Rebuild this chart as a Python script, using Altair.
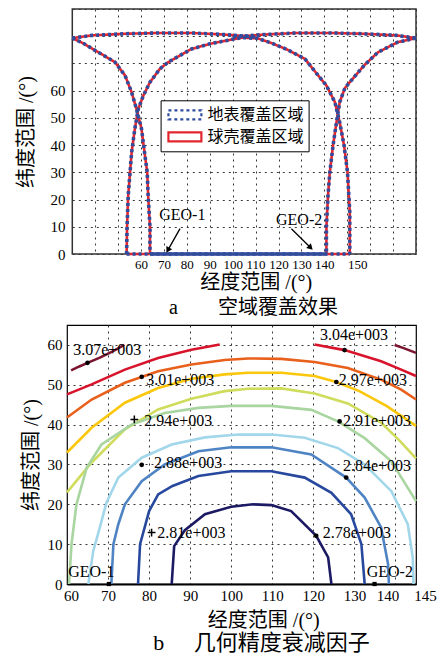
import altair as alt
import pandas as pd

FONT = "Liberation Serif, Noto Sans CJK SC"

# ---------------- panel a: coverage ----------------
lon_domain_a = [30, 180]
lat_domain_a = [0, 90]
lon_ticks_a = list(range(30, 181, 10))
lat_ticks_a = list(range(0, 91, 10))
series_names = ["地表覆盖区域", "球壳覆盖区域"]

left_lon = [30, 35, 39.9, 44, 48.6, 53.0, 55.9, 58.0, 60.2, 61.7, 62.7, 63.1, 63.9, 63.9]
left_lat = [79.3, 77.3, 74.8, 72.8, 70.5, 65.6, 59.4, 53.3, 46.0, 36.2, 30.0, 21.5, 10.0, 0]
arch_lon = [53.7, 53.9, 54.4, 55.9, 57.3, 58.8, 61.0, 63.9, 68.2, 71.9, 82, 90, 96.6, 104, 111,
            116.9, 124, 131.5, 137.3, 140.9, 144.6, 146.7, 148.6, 150.1, 151.1, 151.1]
arch_lat = [0, 10, 21.5, 37.4, 46.0, 53.3, 58.2, 63.1, 68.0, 70.5, 75.3, 77.2, 78.3, 79.5, 79.2,
            77.5, 75.0, 71.7, 65.6, 61.9, 55.8, 48.4, 39.9, 30.1, 15.4, 0]
right_lon = [180, 172, 163.4, 157.6, 152.5, 149, 146.7, 145.3, 143.8, 142.4, 141.6, 140.9, 140.9]
right_lat = [79.3, 77.8, 74.1, 69.5, 64.5, 61, 55.8, 48.4, 39.9, 30.1, 21.5, 10, 0]
topl_lon = [30, 38.4, 53, 67.5, 82, 96.6, 110]
topl_lat = [79.3, 80.3, 80.9, 81.2, 81.2, 80.6, 79.7]
topr_lon = [100, 113.4, 128, 142.5, 157, 171.6, 180]
topr_lat = [79.7, 80.6, 81.2, 81.2, 80.9, 80.3, 79.3]
base_lon = [53.7, 151.1]
base_lat = [0, 0]
track_lon = [63.9, 140.9]
track_lat = [0, 0]

geo_names = ["GEO-1", "GEO-2"]
geo_text_lon = [78.0, 129.0]
geo_text_lat = [14.3, 12.5]
arrow_lon = [77.0, 125.6]
arrow_lat = [9.3, 9.3]
arrow_lon2 = [71.9, 133.7]
arrow_lat2 = [1.7, 2.6]

# ---------------- panel b: GDOP contours ----------------
lon_domain_b = [60, 145]
lat_domain_b = [0, 65]
lon_ticks_b = [60, 70, 80, 90, 100, 110, 120, 130, 140, 145]
lat_ticks_b = [0, 10, 20, 30, 40, 50, 60]

levels = ["3.07", "3.04", "3.01", "2.97", "2.94", "2.91", "2.88", "2.84", "2.81", "2.78"]
level_colors = ["#7a1630", "#d8142c", "#e8601c", "#fbc70c", "#cfdc5c", "#a9d5a0",
                "#a2d6ea", "#4f84c4", "#27489d", "#1c1a63"]

c307a_lon = [61.0, 63, 65, 68, 71, 74]
c307a_lat = [53.6, 54.6, 55.5, 56.8, 58.3, 60]
c307b_lon = [139.8, 142, 145]
c307b_lat = [60, 59.2, 58]
c304a_lon = [60, 66.0, 74.1, 82.2, 90.3, 97.2]
c304a_lat = [47.6, 50.1, 53.8, 56.7, 58.8, 60.1]
c304b_lon = [120.3, 127.6, 136.5, 141.4, 145]
c304b_lat = [60.1, 58.7, 55.9, 53.8, 52.2]
c301_lon = [60, 66, 74.1, 82.2, 90.3, 98.4, 104.1, 112.2, 120.3, 128.4, 136.5, 141.4, 145]
c301_lat = [41.8, 46.3, 50.5, 53.4, 55.1, 56.2, 56.6, 56.5, 55.7, 54.2, 51.3, 48.8, 46.3]
c297_lon = [60, 66, 74.1, 82.2, 90.3, 98.4, 104.1, 112.2, 120.3, 125.6, 131.2, 137.8, 145]
c297_lat = [33, 39.2, 45.5, 49.2, 51.5, 52.6, 53, 53, 52.2, 50.7, 48.4, 44.7, 39.7]
c294_lon = [60, 66, 74.1, 82.2, 90.3, 98.4, 104.1, 112.2, 120.3, 128.4, 136.5, 141, 145]
c294_lat = [23, 30.5, 38.8, 43.8, 46.5, 48.4, 49, 49.1, 47.8, 45.3, 40.5, 36.0, 31.5]
c291_lon = [60.5, 61.1, 62.3, 64.8, 68.4, 75.7, 83.8, 92, 100, 109.8, 119.5, 126, 132.5, 139, 145]
c291_lat = [0, 10, 20, 29.2, 35, 40, 42.9, 44.2, 44.7, 44.7, 43.7, 40.8, 36.6, 30.8, 20.8]
c288_lon = [65.2, 66.4, 68.0, 69.6, 72.5, 78.2, 85.5, 93.6, 101.7, 109.8, 117.9, 126, 132.5,
            139, 143, 144.2, 144.4]
c288_lat = [0, 8.3, 14.2, 20.4, 26.7, 31.7, 35, 36.8, 37.5, 37.5, 36.7, 34.1, 30, 23.3, 15, 6.7, 0]
c284_lon = [70.8, 71.3, 72.5, 74.1, 78.2, 83.8, 92, 100, 109.8, 119.5, 128, 132.5, 136.5, 138.2, 138.4]
c284_lat = [0, 10, 15, 20, 25.8, 30, 33.3, 34.3, 34.3, 32.5, 26.7, 21.7, 14.2, 5, 0]
c281_lon = [77.3, 77.8, 80.0, 82.2, 85.7, 92, 100, 109.8, 117.9, 124.4, 129.2, 131.7, 132.5]
c281_lat = [0, 10, 18.3, 22.5, 24.6, 27.1, 28.3, 28.3, 26.7, 22.9, 17.5, 10, 0]
c278_lon = [85.5, 86.1, 88.7, 93.6, 100, 105.3, 109.8, 114.6, 120.7, 123.6, 124.4]
c278_lat = [0, 9.5, 13.5, 17.5, 19.4, 20, 19.8, 18.3, 12.1, 6.7, 0]

label_text = ["3.07e+003", "3.01e+003", "2.94e+003", "2.88e+003", "2.81e+003",
              "3.04e+003", "2.97e+003", "2.91e+003", "2.84e+003", "2.78e+003"]
label_lon = [61.5, 79.3, 78.8, 81.2, 82.0, 121.6, 126.2, 127.2, 127.2, 122.3]
label_lat = [58.8, 51.3, 40.9, 30.3, 12.9, 62.6, 51.3, 40.8, 29.6, 12.9]
dot_lon = [65.0, 78.2, 78.2, 127.6, 125.6, 126.4, 128.0, 120.7]
dot_lat = [55.5, 52.0, 29.9, 58.7, 50.7, 40.8, 26.7, 12.1]
plus_lon = [76.4, 80.6]
plus_lat = [41.3, 12.9]
sat_name_lon = [60.3, 133.0]
sat_name_lat = [2.9, 2.9]
sat_lon = [70.2, 134.9]
sat_lat = [0, 0]


def curve_df(key, lons, lats, **extra):
    d = pd.DataFrame({"lon": lons, "lat": lats})
    d["curve"] = key
    d["i"] = range(len(d))
    for k, v in extra.items():
        d[k] = v
    return d


# ---------- build panel a ----------
shape_sets = [(left_lon, left_lat), (arch_lon, arch_lat), (right_lon, right_lat),
              (topl_lon, topl_lat), (topr_lon, topr_lat), (base_lon, base_lat)]
frames = []
for s in series_names:
    for k, (lo, la) in enumerate(shape_sets):
        frames.append(curve_df(f"{s}{k}", lo, la, series=s))
cov = pd.concat(frames, ignore_index=True)
track = curve_df("track", track_lon, track_lat)

xa = alt.X("lon:Q",
           scale=alt.Scale(domain=lon_domain_a, range=[5.3, 349], nice=False, zero=False),
           axis=alt.Axis(values=lon_ticks_a,
                         labelExpr="datum.value >= 60 && datum.value <= 150 ? datum.label : ''",
                         labelOffset={"condition": {"test": "datum.value == 150", "value": 10},
                                      "value": 0},
                         labelFontSize=13, labelOverlap=False, labelFlush=False,
                         title="经度范围 /(°)", titleX=188.8, titlePadding=1,
                         labelPadding=4, ticks=False, domain=False, grid=True))
ya = alt.Y("lat:Q",
           scale=alt.Scale(domain=lat_domain_a, nice=False, zero=False),
           axis=alt.Axis(values=lat_ticks_a,
                         labelExpr="datum.value <= 60 ? datum.label : ''",
                         title="纬度范围 /(°)", titlePadding=14,
                         labelPadding=2, ticks=False, domain=False, grid=True))

color_a = alt.Color("series:N",
                    scale=alt.Scale(domain=series_names, range=["#2f4c9f", "#e2262d"]),
                    legend=alt.Legend(title=None, orient="none", legendX=93.6, legendY=91.3,
                                      direction="vertical",
                                      symbolType="M-2.06,-0.56H2.06V0.56H-2.06Z",
                                      symbolSize=256, symbolStrokeWidth=2.2,
                                      symbolOffset=9.8, labelOffset=13, padding=5,
                                      rowPadding=3, strokeColor="black", fillColor="white",
                                      labelFont=FONT, labelFontSize=16, labelColor="black",
                                      symbolFillColor="transparent"))
dash_a = alt.StrokeDash("series:N",
                        scale=alt.Scale(domain=series_names, range=[[3, 3], [1, 0]]),
                        legend=None)

frame_a = pd.DataFrame({"lon": [lon_domain_a[0]], "lon2": [lon_domain_a[1]],
                        "lat": [lat_domain_a[0]], "lat2": [lat_domain_a[1]]})
frame_layer = alt.Chart(frame_a).mark_rect(fillOpacity=0, stroke="#333333", strokeWidth=1.5).encode(
    x=xa, x2="lon2:Q", y=ya, y2="lat2:Q")

red_layer = alt.Chart(cov).transform_filter(
    alt.datum.series == series_names[1]).mark_line(strokeWidth=2.6).encode(
    x=xa, y=ya, color=color_a, strokeDash=dash_a, detail="curve:N", order="i:Q")
blue_layer = alt.Chart(cov).transform_filter(
    alt.datum.series == series_names[0]).mark_line(strokeWidth=3.6).encode(
    x=xa, y=ya, color=color_a, strokeDash=dash_a, detail="curve:N", order="i:Q")
track_layer = alt.Chart(track).mark_line(strokeWidth=3.6, color="#2f4c9f").encode(
    x=xa, y=ya, order="i:Q")

geo_df = pd.DataFrame({"name": geo_names, "lon": geo_text_lon, "lat": geo_text_lat})
geo_text = alt.Chart(geo_df).mark_text(font=FONT, fontSize=16, color="black").encode(
    x=xa, y=ya, text="name:N")
arr_df = pd.DataFrame({"lon": arrow_lon, "lat": arrow_lat, "lon2": arrow_lon2, "lat2": arrow_lat2})
arrow_shaft = alt.Chart(arr_df).mark_rule(color="black", strokeWidth=1.3).encode(
    x=xa, y=ya, x2="lon2:Q", y2="lat2:Q")
head1 = alt.Chart(pd.DataFrame({"lon": arrow_lon2[:1], "lat": arrow_lat2[:1]})).mark_point(
    shape="triangle", filled=True, color="black", size=45, angle=210, opacity=1).encode(x=xa, y=ya)
head2 = alt.Chart(pd.DataFrame({"lon": arrow_lon2[1:], "lat": arrow_lat2[1:]})).mark_point(
    shape="triangle", filled=True, color="black", size=45, angle=135, opacity=1).encode(x=xa, y=ya)

top = alt.layer(frame_layer, red_layer, blue_layer, track_layer, arrow_shaft, head1, head2,
                geo_text).properties(
    width=349, height=245,
    view=alt.ViewBackground(stroke="transparent"),
    title=alt.TitleParams(text="a\u2003\u2003空域覆盖效果", orient="bottom", anchor="middle",
                          font=FONT, fontSize=20, fontWeight="normal", color="black",
                          dx=12, offset=6))

# ---------- build panel b ----------
seg_sets = [("3.07", "a", c307a_lon, c307a_lat), ("3.07", "b", c307b_lon, c307b_lat),
            ("3.04", "a", c304a_lon, c304a_lat), ("3.04", "b", c304b_lon, c304b_lat),
            ("3.01", "a", c301_lon, c301_lat), ("2.97", "a", c297_lon, c297_lat),
            ("2.94", "a", c294_lon, c294_lat), ("2.91", "a", c291_lon, c291_lat),
            ("2.88", "a", c288_lon, c288_lat), ("2.84", "a", c284_lon, c284_lat),
            ("2.81", "a", c281_lon, c281_lat), ("2.78", "a", c278_lon, c278_lat)]
cf = []
for lev, part, lo, la in seg_sets:
    cf.append(curve_df(lev + part, lo, la, level=lev))
cont = pd.concat(cf, ignore_index=True)

xb = alt.X("lon:Q",
           scale=alt.Scale(domain=lon_domain_b, nice=False, zero=False),
           axis=alt.Axis(values=lon_ticks_b, title="经度范围 /(°)", titleX=196.3,
                         labelOffset={"condition": [{"test": "datum.value == 60", "value": 4},
                                                    {"test": "datum.value == 140", "value": -8},
                                                    {"test": "datum.value == 145", "value": 9}],
                                      "value": 0},
                         labelOverlap=False, labelFlush=False,
                         titlePadding=7, labelPadding=4, ticks=False, grid=True,
                         domain=True, domainColor="black", domainWidth=2))
yb = alt.Y("lat:Q",
           scale=alt.Scale(domain=lat_domain_b, nice=False, zero=False),
           axis=alt.Axis(values=lat_ticks_b, title="纬度范围 /(°)", titlePadding=6,
                         labelPadding=5, ticks=False, grid=True, domain=False))

cont_layer = alt.Chart(cont).mark_line(strokeWidth=2.6).encode(
    x=xb, y=yb,
    color=alt.Color("level:N", scale=alt.Scale(domain=levels, range=level_colors), legend=None),
    detail="curve:N", order="i:Q")
dots = alt.Chart(pd.DataFrame({"lon": dot_lon, "lat": dot_lat})).mark_circle(
    color="black", size=22, opacity=1).encode(x=xb, y=yb)
pluses = alt.Chart(pd.DataFrame({"lon": plus_lon, "lat": plus_lat})).mark_point(
    shape="M-1,0H1M0,-1V1", size=60, color="black", strokeWidth=1.5, opacity=1).encode(x=xb, y=yb)
labels = alt.Chart(pd.DataFrame({"lon": label_lon, "lat": label_lat, "t": label_text})).mark_text(
    font=FONT, fontSize=16, align="left", baseline="middle", color="black").encode(
    x=xb, y=yb, text="t:N")
sats = alt.Chart(pd.DataFrame({"lon": sat_lon, "lat": sat_lat})).mark_square(
    color="black", size=18, opacity=1).encode(x=xb, y=yb)
sat_text = alt.Chart(pd.DataFrame({"lon": sat_name_lon, "lat": sat_name_lat, "t": geo_names})).mark_text(
    font=FONT, fontSize=16, align="left", baseline="middle", color="black").encode(
    x=xb, y=yb, text="t:N")

bottom = alt.layer(cont_layer, dots, pluses, sats, labels, sat_text).properties(
    width=349, height=259,
    view=alt.ViewBackground(stroke="black", strokeWidth=1.2),
    title=alt.TitleParams(text="b\u2003\u2004几何精度衰减因子", orient="bottom", anchor="middle",
                          font=FONT, fontSize=22, fontWeight="normal", color="black",
                          dx=20, offset=3))

chart = alt.vconcat(top, bottom, spacing=5).resolve_scale(
    color="independent", strokeDash="independent", x="independent", y="independent"
).resolve_legend(color="independent", strokeDash="independent").properties(
    padding={"left": 15, "top": 7, "right": 5, "bottom": 0}
).configure_axis(
    labelFont=FONT, labelFontSize=15, labelColor="black",
    titleFont=FONT, titleFontSize=20, titleFontWeight="normal", titleColor="black",
    gridColor="#222222", gridDash=[2, 4], gridWidth=1, gridOpacity=0.9
).configure_view(stroke="black")

chart.save("out.html", embed_options={"renderer": "svg", "actions": False})
